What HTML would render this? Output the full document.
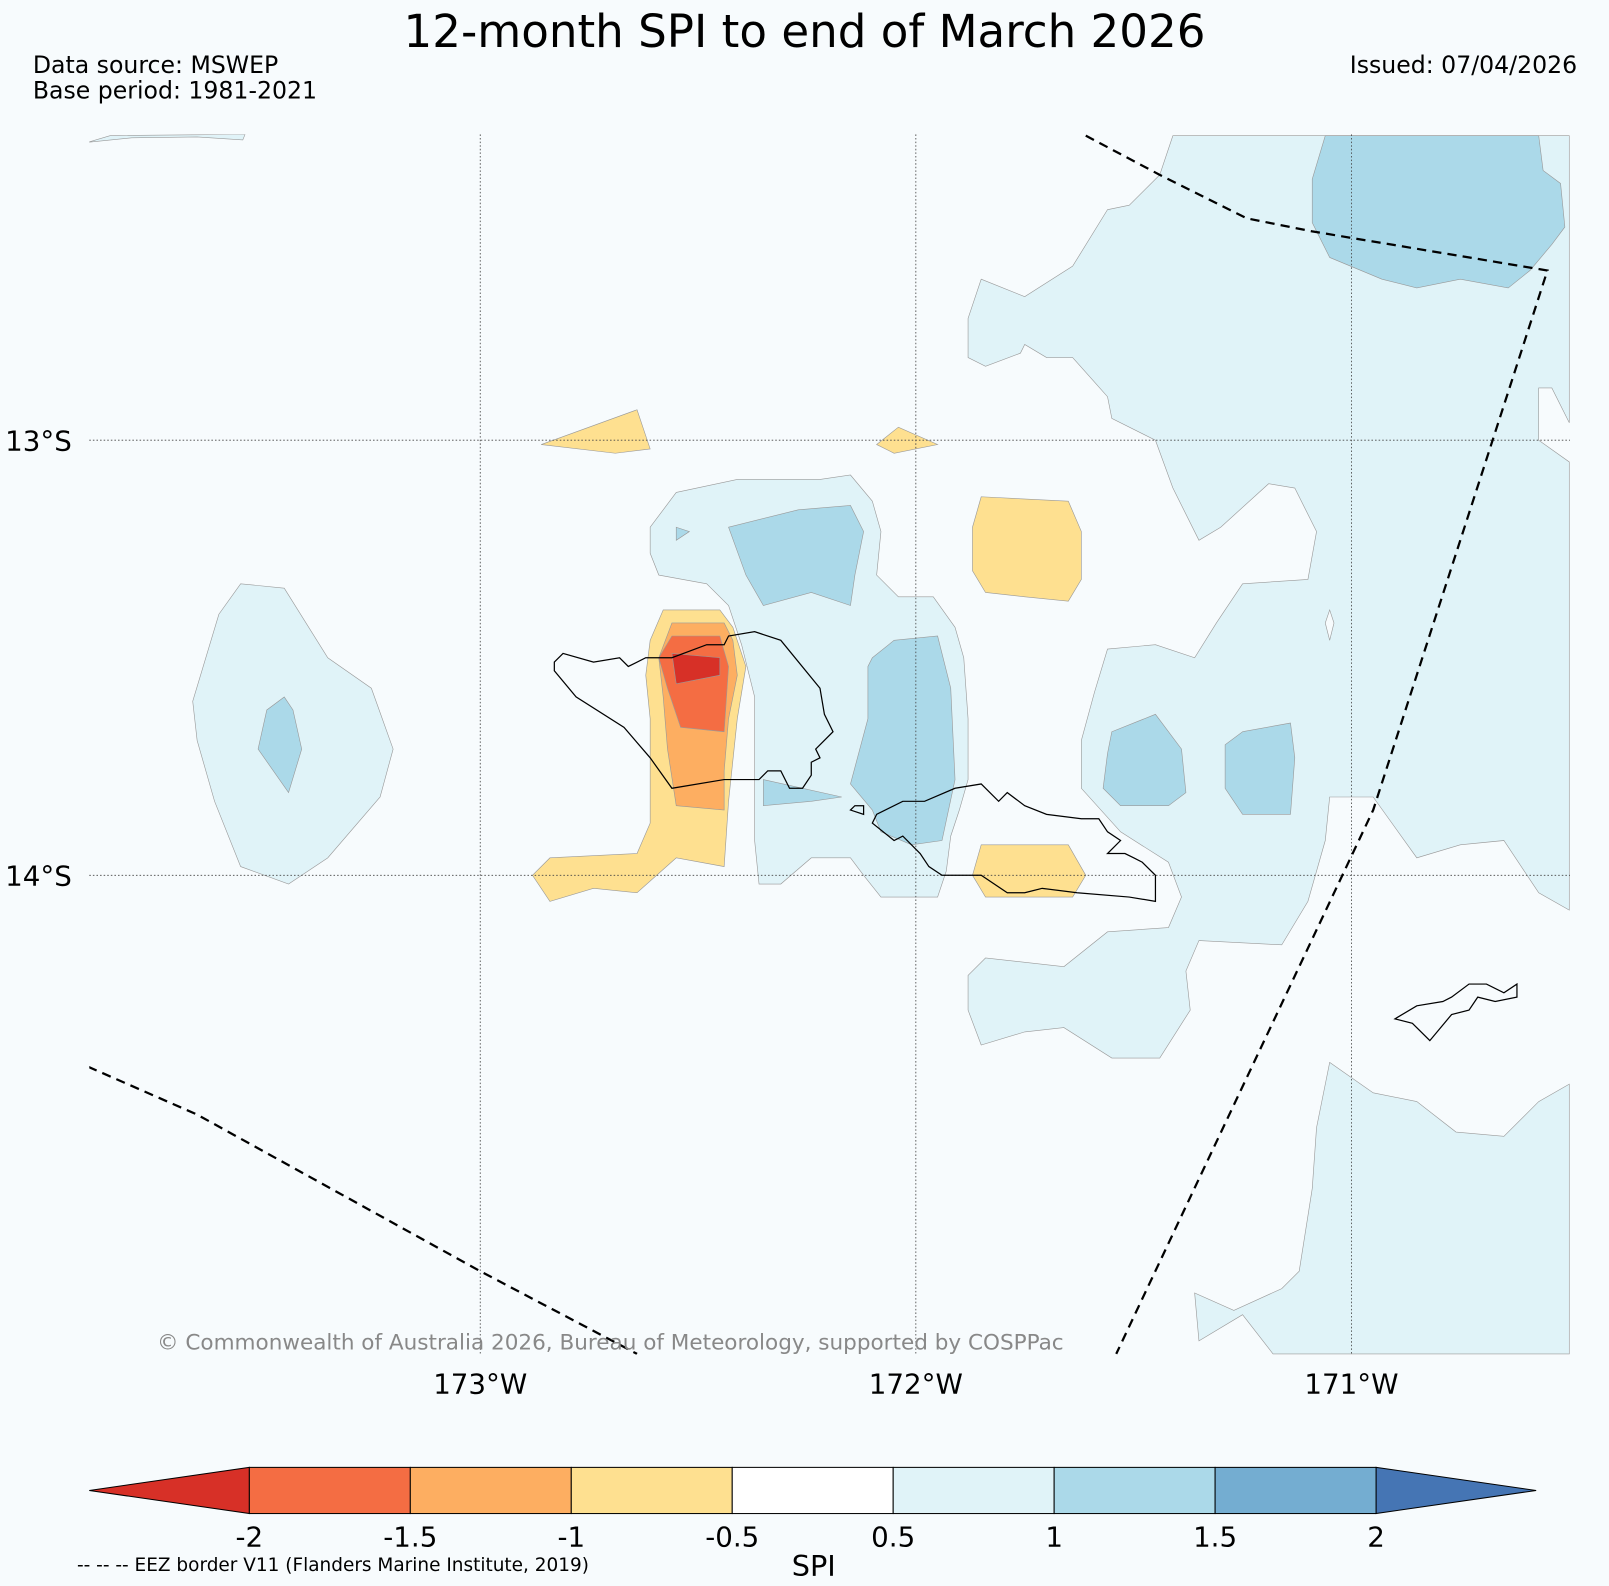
<!DOCTYPE html>
<html><head><meta charset="utf-8"><style>
html,body{margin:0;padding:0;background:#f7fbfd;}
svg{display:block;font-family:"DejaVu Sans","Liberation Sans",sans-serif;}
</style></head><body>
<svg id="map" width="1609" height="1586" viewBox="0 0 1568 1545.6" xmlns="http://www.w3.org/2000/svg">
<rect width="1568" height="1546" fill="#f7fbfd"/>
<text x="784" y="46" font-size="44" text-anchor="middle">12-month SPI to end of March 2026</text>
<text x="32" y="71" font-size="23">Data source: MSWEP</text>
<text x="32" y="96" font-size="23">Base period: 1981-2021</text>
<text x="1537" y="71" font-size="23" text-anchor="end">Issued: 07/04/2026</text>
<defs><clipPath id="mc"><rect x="87" y="131" width="1443" height="1189"/></clipPath></defs>
<g id="fills" clip-path="url(#mc)"></g>
<g id="grid"></g>
<g id="coast" clip-path="url(#mc)"></g>
<g id="eez" clip-path="url(#mc)"></g>
<g id="labels"></g>
<text x="153" y="1315" font-size="21" fill="#888">© Commonwealth of Australia 2026, Bureau of Meteorology, supported by COSPPac</text>
<g id="cbar"></g>
<text x="793" y="1536" font-size="28" text-anchor="middle">SPI</text>
<text x="75" y="1531" font-size="18">-- -- -- EEZ border V11 (Flanders Marine Institute, 2019)</text>
</svg>
<script>
const lonTicks=[-173,-172,-171];
const latTicks=[-13,-14];
const levelLabels=["-2","-1.5","-1","-0.5","0.5","1","1.5","2"];
const levelColors=["#d73027","#f46d43","#fdae61","#fee090","#ffffff","#e0f3f8","#abd9e9","#74add1","#4575b4"];
const lightBlueNE=[[-171.41,-12.30],[-171.44,-12.39],[-171.51,-12.46],[-171.56,-12.47],[-171.64,-12.60],[-171.75,-12.67],[-171.85,-12.63],[-171.88,-12.72],[-171.88,-12.81],[-171.84,-12.83],[-171.76,-12.80],[-171.75,-12.78],[-171.70,-12.81],[-171.64,-12.81],[-171.56,-12.90],[-171.55,-12.95],[-171.45,-13.00],[-171.41,-13.11],[-171.35,-13.23],[-171.30,-13.20],[-171.19,-13.10],[-171.13,-13.11],[-171.08,-13.21],[-171.10,-13.32],[-171.25,-13.33],[-171.31,-13.42],[-171.36,-13.50],[-171.45,-13.47],[-171.56,-13.48],[-171.59,-13.58],[-171.62,-13.69],[-171.62,-13.80],[-171.53,-13.90],[-171.42,-13.97],[-171.39,-14.05],[-171.42,-14.12],[-171.56,-14.13],[-171.66,-14.21],[-171.84,-14.19],[-171.88,-14.23],[-171.88,-14.31],[-171.85,-14.39],[-171.75,-14.36],[-171.66,-14.35],[-171.55,-14.42],[-171.44,-14.42],[-171.37,-14.31],[-171.38,-14.22],[-171.35,-14.15],[-171.16,-14.16],[-171.10,-14.06],[-171.06,-13.92],[-171.05,-13.82],[-170.95,-13.82],[-170.85,-13.96],[-170.75,-13.93],[-170.65,-13.92],[-170.57,-14.04],[-170.50,-14.08],[-170.50,-13.05],[-170.57,-13.00],[-170.57,-12.88],[-170.54,-12.88],[-170.50,-12.96],[-170.50,-12.30]];
const lightBlueSE=[[-171.05,-14.43],[-170.95,-14.50],[-170.85,-14.52],[-170.76,-14.59],[-170.65,-14.60],[-170.57,-14.52],[-170.50,-14.48],[-170.50,-15.10],[-171.18,-15.10],[-171.25,-15.01],[-171.35,-15.07],[-171.36,-14.96],[-171.27,-15.00],[-171.16,-14.95],[-171.12,-14.91],[-171.09,-14.72],[-171.08,-14.58]];
const lightBlueW=[[-173.55,-13.33],[-173.45,-13.34],[-173.35,-13.50],[-173.25,-13.57],[-173.20,-13.71],[-173.23,-13.82],[-173.35,-13.96],[-173.44,-14.02],[-173.55,-13.98],[-173.61,-13.83],[-173.65,-13.69],[-173.66,-13.60],[-173.60,-13.40]];
const lightBlueNW=[[-173.90,-12.315],[-173.85,-12.30],[-173.54,-12.297],[-173.545,-12.31],[-173.65,-12.303],[-173.80,-12.305]];
const lightBlueC=[[-172.61,-13.20],[-172.55,-13.12],[-172.41,-13.09],[-172.22,-13.09],[-172.15,-13.08],[-172.10,-13.14],[-172.08,-13.21],[-172.09,-13.31],[-172.04,-13.36],[-171.96,-13.36],[-171.91,-13.43],[-171.89,-13.50],[-171.88,-13.64],[-171.88,-13.78],[-171.90,-13.85],[-171.92,-13.91],[-171.93,-13.99],[-171.95,-14.05],[-172.08,-14.05],[-172.12,-14.00],[-172.15,-13.96],[-172.24,-13.96],[-172.31,-14.02],[-172.36,-14.02],[-172.37,-13.92],[-172.37,-13.59],[-172.40,-13.47],[-172.43,-13.38],[-172.48,-13.33],[-172.59,-13.31],[-172.61,-13.26]];
const midBlueNE=[[-171.06,-12.30],[-170.57,-12.30],[-170.56,-12.38],[-170.52,-12.41],[-170.51,-12.51],[-170.54,-12.55],[-170.59,-12.61],[-170.64,-12.65],[-170.75,-12.63],[-170.85,-12.65],[-170.93,-12.63],[-171.05,-12.58],[-171.09,-12.50],[-171.09,-12.40]];
const midBlueW=[[-173.45,-13.59],[-173.43,-13.62],[-173.41,-13.71],[-173.44,-13.81],[-173.51,-13.71],[-173.49,-13.62]];
const midBlueC1=[[-172.43,-13.20],[-172.27,-13.16],[-172.15,-13.15],[-172.12,-13.21],[-172.14,-13.31],[-172.15,-13.38],[-172.24,-13.35],[-172.35,-13.38],[-172.39,-13.31]];
const midBlueC2=[[-172.10,-13.50],[-172.05,-13.46],[-171.95,-13.45],[-171.92,-13.57],[-171.91,-13.78],[-171.94,-13.92],[-172.01,-13.93],[-172.08,-13.90],[-172.10,-13.85],[-172.15,-13.79],[-172.11,-13.64],[-172.11,-13.52]];
const midBlueStrip=[[-172.35,-13.78],[-172.17,-13.82],[-172.24,-13.83],[-172.35,-13.84]];
const midBlueTiny=[[-172.55,-13.20],[-172.52,-13.21],[-172.55,-13.23]];
const midBlueE1=[[-171.55,-13.67],[-171.45,-13.63],[-171.39,-13.71],[-171.38,-13.81],[-171.42,-13.84],[-171.53,-13.84],[-171.57,-13.80],[-171.56,-13.72]];
const midBlueE2=[[-171.25,-13.67],[-171.14,-13.65],[-171.13,-13.73],[-171.14,-13.86],[-171.25,-13.86],[-171.29,-13.80],[-171.29,-13.70]];
const yellowN1=[[-172.86,-13.01],[-172.64,-12.93],[-172.61,-13.02],[-172.69,-13.03]];
const yellowN2=[[-172.09,-13.01],[-172.04,-12.97],[-171.95,-13.01],[-172.05,-13.03]];
const yellowE1=[[-171.85,-13.13],[-171.65,-13.14],[-171.62,-13.21],[-171.62,-13.32],[-171.65,-13.37],[-171.75,-13.36],[-171.84,-13.35],[-171.87,-13.30],[-171.87,-13.20]];
const yellowE2=[[-171.85,-13.93],[-171.65,-13.93],[-171.61,-14.00],[-171.64,-14.05],[-171.84,-14.05],[-171.87,-14.00]];
const yellowW=[[-172.58,-13.39],[-172.45,-13.39],[-172.42,-13.43],[-172.39,-13.52],[-172.41,-13.64],[-172.43,-13.83],[-172.44,-13.98],[-172.55,-13.96],[-172.64,-14.04],[-172.74,-14.03],[-172.84,-14.06],[-172.88,-14.00],[-172.84,-13.96],[-172.64,-13.95],[-172.61,-13.88],[-172.61,-13.64],[-172.62,-13.54],[-172.61,-13.46]];
const orangeW=[[-172.56,-13.42],[-172.44,-13.42],[-172.42,-13.46],[-172.41,-13.54],[-172.43,-13.64],[-172.44,-13.76],[-172.44,-13.85],[-172.55,-13.84],[-172.57,-13.71],[-172.58,-13.59],[-172.59,-13.50]];
const dkOrangeW=[[-172.56,-13.45],[-172.45,-13.45],[-172.43,-13.52],[-172.44,-13.67],[-172.54,-13.66],[-172.57,-13.57],[-172.59,-13.50]];
const redW=[[-172.56,-13.49],[-172.45,-13.50],[-172.45,-13.54],[-172.55,-13.56]];
const holeE=[[-171.05,-13.39],[-171.04,-13.42],[-171.05,-13.46],[-171.06,-13.42]];
const savaii=[[-172.83,-13.51],[-172.81,-13.49],[-172.74,-13.51],[-172.68,-13.50],[-172.66,-13.52],[-172.62,-13.50],[-172.56,-13.50],[-172.48,-13.47],[-172.44,-13.47],[-172.43,-13.45],[-172.37,-13.44],[-172.31,-13.46],[-172.22,-13.57],[-172.21,-13.63],[-172.19,-13.67],[-172.23,-13.71],[-172.22,-13.73],[-172.24,-13.74],[-172.24,-13.77],[-172.26,-13.80],[-172.29,-13.80],[-172.31,-13.76],[-172.34,-13.76],[-172.36,-13.78],[-172.44,-13.78],[-172.56,-13.80],[-172.61,-13.73],[-172.67,-13.66],[-172.78,-13.59],[-172.83,-13.53]];
const upolu=[[-172.09,-13.86],[-172.10,-13.88],[-172.05,-13.92],[-172.03,-13.91],[-171.99,-13.95],[-171.97,-13.98],[-171.94,-14.00],[-171.85,-14.00],[-171.79,-14.04],[-171.75,-14.04],[-171.71,-14.03],[-171.63,-14.04],[-171.51,-14.05],[-171.45,-14.06],[-171.45,-14.00],[-171.48,-13.97],[-171.50,-13.96],[-171.52,-13.95],[-171.56,-13.95],[-171.53,-13.92],[-171.56,-13.90],[-171.58,-13.87],[-171.61,-13.87],[-171.62,-13.87],[-171.70,-13.86],[-171.75,-13.84],[-171.79,-13.81],[-171.81,-13.83],[-171.85,-13.79],[-171.91,-13.80],[-171.98,-13.83],[-172.03,-13.83]];
const manono=[[-172.14,-13.84],[-172.12,-13.84],[-172.12,-13.86],[-172.15,-13.85]];
const tutuila=[[-170.90,-14.33],[-170.85,-14.30],[-170.79,-14.29],[-170.77,-14.28],[-170.73,-14.25],[-170.69,-14.25],[-170.65,-14.27],[-170.62,-14.25],[-170.62,-14.28],[-170.67,-14.29],[-170.71,-14.28],[-170.73,-14.31],[-170.77,-14.32],[-170.82,-14.38],[-170.86,-14.34]];
const eezEast=[[-171.61,-12.30],[-171.44,-12.39],[-171.24,-12.49],[-171.09,-12.52],[-170.55,-12.61],[-170.95,-13.85],[-171.54,-15.10]];
const eezWest=[[-173.90,-14.44],[-173.65,-14.55],[-173.00,-14.91],[-172.64,-15.10]];

const NS='http://www.w3.org/2000/svg';
function X(lon){return 468+(lon+173)*424.5;}
function Y(lat){return 429-(lat+13)*424;}
function pts(a){return a.map(p=>X(p[0]).toFixed(1)+','+Y(p[1]).toFixed(1)).join(' ');}
function mk(tag,parent,attrs){const e=document.createElementNS(NS,tag);for(const k in attrs)e.setAttribute(k,attrs[k]);document.getElementById(parent).appendChild(e);return e;}
const fillLayers=[
 [lightBlueNE,5,'contour-1.0-northeast'],[lightBlueSE,5,'contour-1.0-southeast'],[lightBlueW,5,'contour-1.0-west'],[lightBlueNW,5,'contour-1.0-northwest'],[lightBlueC,5,'contour-1.0-central'],
 [holeE,4,'contour-hole-east'],
 [midBlueNE,6,'contour-1.5-northeast'],[midBlueW,6,'contour-1.5-west'],[midBlueC1,6,'contour-1.5-central-north'],[midBlueC2,6,'contour-1.5-central-south'],[midBlueStrip,6,'contour-1.5-strip'],[midBlueTiny,6,'contour-1.5-tiny'],[midBlueE1,6,'contour-1.5-east-1'],[midBlueE2,6,'contour-1.5-east-2'],
 [yellowN1,3,'contour-neg0.5-north-1'],[yellowN2,3,'contour-neg0.5-north-2'],[yellowE1,3,'contour-neg0.5-east-1'],[yellowE2,3,'contour-neg0.5-east-2'],[yellowW,3,'contour-neg0.5-west'],
 [orangeW,2,'contour-neg1-west'],[dkOrangeW,1,'contour-neg1.5-west'],[redW,0,'contour-neg2-west']];
fillLayers.forEach(L=>{
 const col=L[1]===4?'#f7fbfd':levelColors[L[1]];
 const e=mk('polygon','fills',{points:pts(L[0]),fill:col,stroke:'#999','stroke-width':0.6});
 
 
});
lonTicks.forEach(l=>{
 const e=mk('line','grid',{x1:X(l),x2:X(l),y1:131,y2:1320,stroke:'#444','stroke-width':0.8,'stroke-dasharray':'1.5,2'});
 
 
 const t=mk('text','labels',{x:X(l),y:1358,'font-size':27,'text-anchor':'middle'});
 t.textContent=Math.abs(l)+'°W';
 
 
});
latTicks.forEach(l=>{
 const e=mk('line','grid',{x1:87,x2:1530,y1:Y(l),y2:Y(l),stroke:'#444','stroke-width':0.8,'stroke-dasharray':'1.5,2'});
 
 
 const t=mk('text','labels',{x:5,y:Y(l)+10,'font-size':27});
 t.textContent=Math.abs(l)+'°S';
 
 
});
[[savaii,'savaii-coast'],[upolu,'upolu-coast'],[manono,'islet-coast'],[tutuila,'tutuila-coast']].forEach(c=>{
 const e=mk('polygon','coast',{points:pts(c[0]),fill:'none',stroke:'#000','stroke-width':1.2});
 
 
});
[eezEast,eezWest].forEach((c,i)=>{
 const e=mk('polyline','eez',{points:pts(c),fill:'none',stroke:'#000','stroke-width':2.2,'stroke-dasharray':'9,6'});
 
 
});
const cbL=243,cbR=1341,cbT=1430,cbB=1475,segW=(cbR-cbL)/7;
let e=mk('polygon','cbar',{points:`87,${(cbT+cbB)/2} ${cbL},${cbT} ${cbL},${cbB}`,fill:levelColors[0],stroke:'#000','stroke-width':1});


e=mk('polygon','cbar',{points:`1497,${(cbT+cbB)/2} ${cbR},${cbT} ${cbR},${cbB}`,fill:levelColors[8],stroke:'#000','stroke-width':1});


for(let i=0;i<7;i++){
 e=mk('rect','cbar',{x:cbL+i*segW,y:cbT,width:segW,height:cbB-cbT,fill:levelColors[i+1],stroke:'#000','stroke-width':1});
 
 
}
levelLabels.forEach((s,i)=>{
 const t=mk('text','cbar',{x:cbL+i*segW,y:1507,'font-size':27,'text-anchor':'middle'});
 t.textContent=s;
 
 
});
</script>
</body></html>
